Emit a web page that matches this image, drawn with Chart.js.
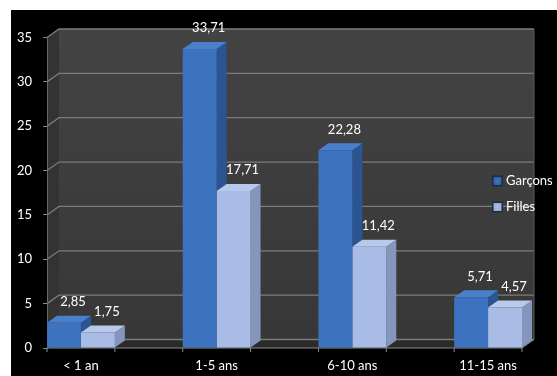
<!DOCTYPE html>
<html>
<head>
<meta charset="utf-8">
<script src="https://cdn.jsdelivr.net/npm/chart.js@4.4.1/dist/chart.umd.min.js"></script>
<style>
  html, body { margin: 0; padding: 0; background: #fff; }
  #box { position: absolute; left: 11px; top: 10px; width: 546px; height: 366px; background: #000; }
</style>
</head>
<body>
<div id="box"><canvas id="c"></canvas></div>
<script>
// values
const categories = ['< 1 an', '1-5 ans', '6-10 ans', '11-15 ans'];
const garcons = [2.85, 33.71, 22.28, 5.71];
const filles = [1.75, 17.71, 11.42, 4.57];
const seriesNames = ['Garçons', 'Filles'];
const yMax = 35;
const yStep = 5;

const FONT = 'Lato, "Open Sans", sans-serif';
const WALL = { dx: 12, dy: -8.5 };
const BAR = { dx: 10, dy: -7 };

const faceColors = [
  { front: '#3d72bf', top: '#4a7fcc', side: '#2b5592', mark: '#2c4f80' },
  { front: '#a8bce5', top: '#b8c9ec', side: '#8496bb', mark: '#8d9cb4' }
];

const fmt = v => v.toFixed(2).replace('.', ',');

// back wall, side wall, floor and the 3D grid lines
const walls = {
  id: 'walls',
  beforeDraw(chart) {
    const { ctx, chartArea: a, scales } = chart;
    const L = a.left, R = a.right, T = a.top, B = a.bottom;
    const dx = WALL.dx, dy = WALL.dy;
    ctx.save();
    const g = ctx.createLinearGradient(0, T + dy, 0, B + dy);
    g.addColorStop(0, '#434343');
    g.addColorStop(1, '#373737');
    ctx.fillStyle = g;
    ctx.fillRect(L + dx, T + dy, R - L, B - T);
    ctx.fillStyle = '#333';
    ctx.beginPath();
    ctx.moveTo(L, T); ctx.lineTo(L + dx, T + dy); ctx.lineTo(L + dx, B + dy); ctx.lineTo(L, B);
    ctx.closePath(); ctx.fill();
    ctx.fillStyle = '#2a2a2a';
    ctx.beginPath();
    ctx.moveTo(L, B); ctx.lineTo(R, B); ctx.lineTo(R + dx, B + dy); ctx.lineTo(L + dx, B + dy);
    ctx.closePath(); ctx.fill();

    ctx.strokeStyle = '#7c7c7c';
    ctx.lineWidth = 1.3;
    for (let v = 0; v <= yMax; v += yStep) {
      const y = scales.y.getPixelForValue(v);
      ctx.beginPath();
      ctx.moveTo(L, y); ctx.lineTo(L + dx, y + dy); ctx.lineTo(R + dx, y + dy);
      ctx.stroke();
    }
    ctx.strokeStyle = '#5a5a5a';
    ctx.lineWidth = 1;
    ctx.beginPath();
    ctx.moveTo(R + dx, T + dy); ctx.lineTo(R + dx, B + dy);
    ctx.stroke();

    ctx.strokeStyle = '#8a8a8a';
    ctx.beginPath();
    ctx.moveTo(L, B); ctx.lineTo(R, B); ctx.lineTo(R + dx, B + dy);
    ctx.stroke();
    // small marks under the floor edge, at each bar group side
    for (let v = -0.25; v <= categories.length - 0.75; v += 0.5) {
      const x = scales.x.getPixelForValue(v);
      ctx.beginPath();
      ctx.moveTo(x, B); ctx.lineTo(x, B + 4);
      ctx.stroke();
    }
    ctx.restore();
  },
  // top and side faces, drawn before the library draws the front faces
  beforeDatasetsDraw(chart) {
    const { ctx } = chart;
    ctx.save();
    chart.data.datasets.forEach((ds, i) => {
      const c = faceColors[i];
      chart.getDatasetMeta(i).data.forEach(bar => {
        const x0 = bar.x - bar.width / 2, x1 = bar.x + bar.width / 2;
        ctx.fillStyle = c.side;
        ctx.beginPath();
        ctx.moveTo(x1, bar.y); ctx.lineTo(x1 + BAR.dx, bar.y + BAR.dy);
        ctx.lineTo(x1 + BAR.dx, bar.base + BAR.dy); ctx.lineTo(x1, bar.base);
        ctx.closePath(); ctx.fill();
        ctx.fillStyle = c.top;
        ctx.beginPath();
        ctx.moveTo(x0, bar.y); ctx.lineTo(x1, bar.y);
        ctx.lineTo(x1 + BAR.dx, bar.y + BAR.dy); ctx.lineTo(x0 + BAR.dx, bar.y + BAR.dy);
        ctx.closePath(); ctx.fill();
      });
    });
    ctx.restore();
  },
  afterDatasetsDraw(chart) {
    const { ctx } = chart;
    ctx.save();
    ctx.fillStyle = '#fff';
    ctx.font = '13px ' + FONT;
    ctx.textAlign = 'center';
    ctx.textBaseline = 'middle';
    chart.data.datasets.forEach((ds, i) => {
      chart.getDatasetMeta(i).data.forEach((bar, j) => {
        ctx.fillText(fmt(ds.data[j].y), bar.x + 9, bar.y - 21);
      });
    });
    ctx.restore();
  },
  afterDraw(chart) {
    const { ctx, chartArea: a } = chart;
    ctx.save();
    ctx.font = '13px ' + FONT;
    ctx.textBaseline = 'middle';
    chart.data.datasets.forEach((ds, i) => {
      const x = a.right - 30, y = a.top + 138 + i * 26;
      const g = ctx.createRadialGradient(x + 5.5, y + 5.5, 1, x + 5.5, y + 5.5, 7);
      g.addColorStop(0, faceColors[i].front);
      g.addColorStop(1, faceColors[i].mark);
      ctx.fillStyle = '#1c2c45';
      ctx.fillRect(x, y, 11, 11);
      ctx.fillStyle = g;
      ctx.fillRect(x + 1.5, y + 1.5, 8, 8);
      ctx.fillStyle = '#fff';
      ctx.fillText(ds.label, x + 14, y + 5.5);
    });
    ctx.restore();
  }
};

new Chart(document.getElementById('c'), {
  type: 'bar',
  data: {
    datasets: [
      { label: seriesNames[0], data: garcons.map((v, i) => ({ x: i, y: v })), backgroundColor: faceColors[0].front },
      { label: seriesNames[1], data: filles.map((v, i) => ({ x: i, y: v })), backgroundColor: faceColors[1].front }
    ]
  },
  options: {
    responsive: true,
    maintainAspectRatio: false,
    animation: false,
    layout: { padding: { top: 27.5, right: 35, bottom: 0, left: 0 } },
    datasets: { bar: { categoryPercentage: 0.5, barPercentage: 1, borderWidth: 0 } },
    plugins: { legend: { display: false }, tooltip: { enabled: false } },
    scales: {
      x: {
        type: 'linear',
        offset: false,
        min: -0.25,
        max: categories.length - 0.75,
        grid: { display: false, offset: false, drawTicks: false },
        border: { display: false },
        ticks: {
          stepSize: 1,
          includeBounds: false,
          autoSkip: false,
          maxRotation: 0,
          padding: 10,
          color: '#fff',
          font: { family: FONT, size: 13 },
          callback: v => Number.isInteger(v) ? categories[v] : ''
        },
        afterFit: s => { s.height = 28; }
      },
      y: {
        min: 0,
        max: yMax,
        grid: { display: true, drawOnChartArea: false, drawTicks: true, tickLength: 4, color: '#8a8a8a' },
        border: { display: true, color: '#6a6a6a' },
        ticks: { stepSize: yStep, padding: 11, color: '#fff', font: { family: FONT, size: 13 } },
        afterFit: s => { s.width = 36; }
      }
    }
  },
  plugins: [walls]
});
</script>
</body>
</html>
